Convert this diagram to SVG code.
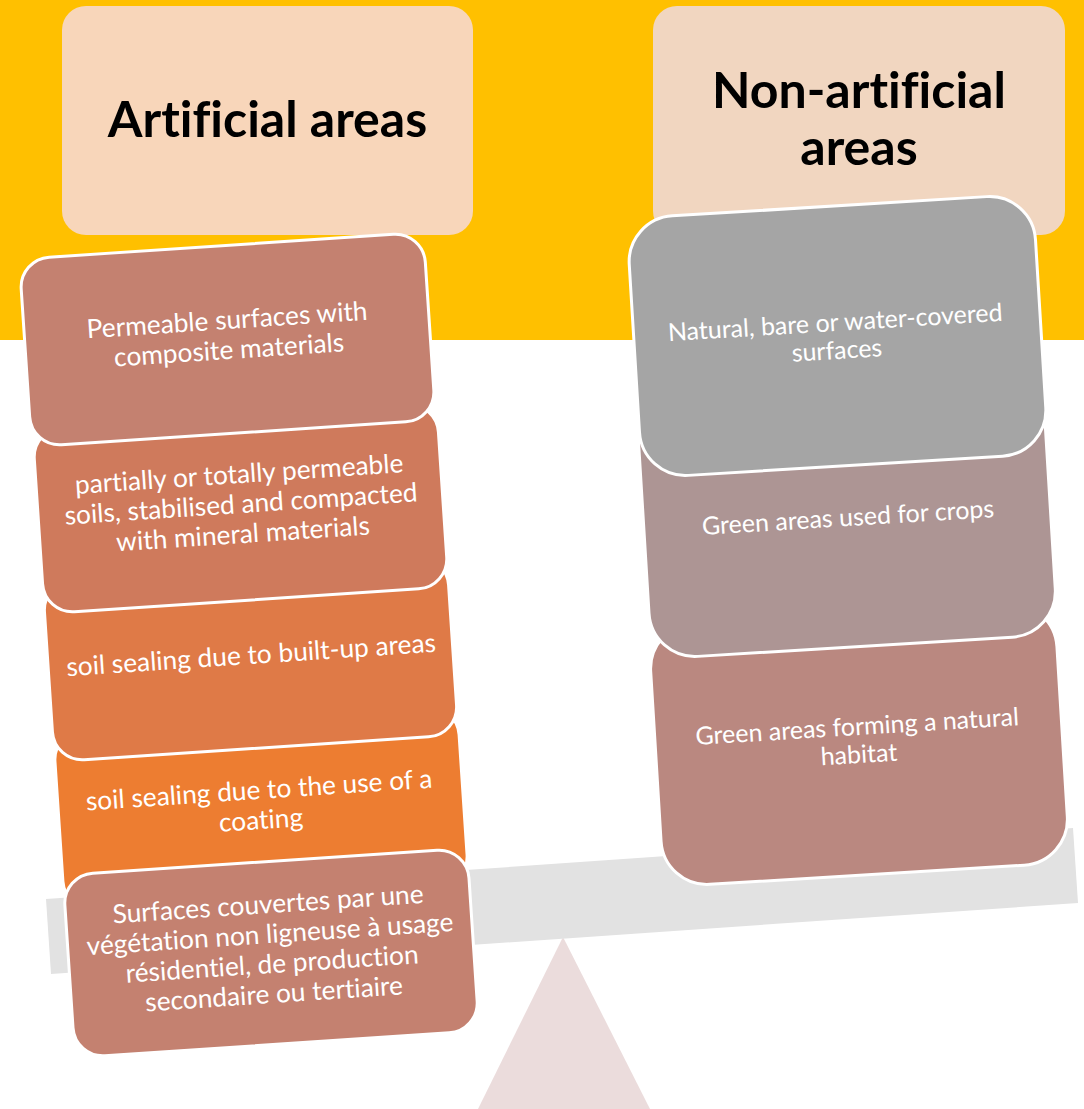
<svg xmlns="http://www.w3.org/2000/svg" width="1084" height="1109" viewBox="0 0 1084 1109">
<style>
.lbl{font-family:Lato,"Liberation Sans",sans-serif;font-size:25px;fill:#FFFFFF;text-anchor:middle;font-variant-ligatures:none;font-feature-settings:"liga" 0,"clig" 0}
.lft{font-size:26.3px}
.hdr{font-family:Lato,"Liberation Sans",sans-serif;font-size:50px;font-weight:bold;fill:#000000;text-anchor:middle;font-variant-ligatures:none;font-feature-settings:"liga" 0,"clig" 0}
.bx{stroke:#FFFFFF;stroke-width:3}
</style>
<rect x="0" y="0" width="1084" height="1109" fill="#FFFFFF"/>
<rect x="0" y="0" width="1084" height="340" fill="#FFC000"/>
<g id="header-artificial">
<rect x="62" y="6" width="411" height="229" rx="24" fill="#F8D6BA"/>
<text class="hdr" x="267.5" y="137">Artificial areas</text>
</g>
<g id="header-non-artificial">
<rect x="653" y="6" width="412" height="229" rx="24" fill="#F1D6C0"/>
<text class="hdr" x="859"><tspan x="859" y="108">Non-artificial</tspan><tspan x="859" y="165">areas</tspan></text>
</g>
<g id="fulcrum">
<polygon points="563,937 478,1109 650,1109" fill="#EBDCDC"/>
</g>
<g id="beam">
<polygon points="46,899 1073,828 1078,903 51,974" fill="#E2E2E2"/>
</g>
<g id="connectors"></g>
<g id="box-coating">
<rect class="bx" x="-202.5" y="-90" width="405" height="180" rx="30" fill="#ED7D31" transform="translate(261,808) rotate(-3.8)"/>
<text class="lbl lft" transform="translate(260,805) rotate(-3.8)"><tspan x="0" y="-6">soil sealing due to the use of a</tspan><tspan x="0" y="24">coating</tspan></text>
</g>
<g id="box-surfaces-couvertes">
<rect class="bx" x="-202.5" y="-91.5" width="405" height="183" rx="30" fill="#C48170" transform="translate(271,953) rotate(-3.8)"/>
<text class="lbl lft" transform="translate(271,949) rotate(-3.8)"><tspan x="0" y="-36">Surfaces couvertes par une</tspan><tspan x="0" y="-6">végétation non ligneuse à usage</tspan><tspan x="0" y="24">résidentiel, de production</tspan><tspan x="0" y="54">secondaire ou tertiaire</tspan></text>
</g>
<g id="box-built-up">
<rect class="bx" x="-202.5" y="-90" width="405" height="180" rx="30" fill="#DF7A47" transform="translate(250.5,658.5) rotate(-3.8)"/>
<text class="lbl lft" transform="translate(251,655) rotate(-3.8)"><tspan x="0" y="9">soil sealing due to built-up areas</tspan></text>
</g>
<g id="box-mineral">
<rect class="bx" x="-202.5" y="-92.5" width="405" height="185" rx="30" fill="#CF7A5C" transform="translate(240.5,508) rotate(-3.8)"/>
<text class="lbl lft" transform="translate(241,504) rotate(-3.8)"><tspan x="0" y="-21">partially or totally permeable</tspan><tspan x="0" y="9">soils, stabilised and compacted</tspan><tspan x="0" y="39">with mineral materials</tspan></text>
</g>
<g id="box-composite">
<rect class="bx" x="-202.5" y="-94" width="405" height="188" rx="30" fill="#C48170" transform="translate(227.5,339.5) rotate(-3.8)"/>
<text class="lbl lft" transform="translate(228,335) rotate(-3.8)"><tspan x="0" y="-6">Permeable surfaces with</tspan><tspan x="0" y="24">composite materials</tspan></text>
</g>
<g id="box-natural-habitat">
<rect class="bx" x="-203.5" y="-131" width="407" height="262" rx="46" fill="#BA8880" transform="translate(859,744) rotate(-3.5)"/>
<text class="lbl" transform="translate(858,740) rotate(-3.5)"><tspan x="0" y="-5">Green areas forming a natural</tspan><tspan x="0" y="23">habitat</tspan></text>
</g>
<g id="box-crops">
<rect class="bx" x="-203.5" y="-130" width="407" height="260" rx="46" fill="#AD9594" transform="translate(847,517) rotate(-3.5)"/>
<text class="lbl" transform="translate(848,517) rotate(-3.5)"><tspan x="0" y="9">Green areas used for crops</tspan></text>
</g>
<g id="box-natural-bare">
<rect class="bx" x="-203.5" y="-130" width="407" height="260" rx="46" fill="#A5A5A5" transform="translate(837.5,336) rotate(-3.5)"/>
<text class="lbl" transform="translate(836,336) rotate(-3.5)"><tspan x="0" y="-5">Natural, bare or water-covered</tspan><tspan x="0" y="23">surfaces</tspan></text>
</g>
</svg>
